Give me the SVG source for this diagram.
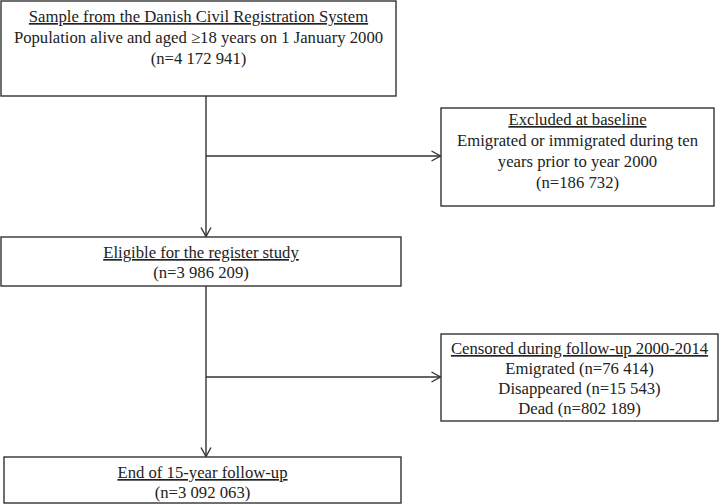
<svg xmlns="http://www.w3.org/2000/svg" width="721" height="504" viewBox="0 0 721 504">
<defs>
<style>
.box{fill:#fff;stroke:#333;stroke-width:1.4}
.t{font-family:"Liberation Serif","Times New Roman",serif;font-size:16.7px;fill:#222;text-anchor:middle}
.u{text-decoration:underline}
.c{fill:none;stroke:#333;stroke-width:1.4}
</style>
<marker id="ah" viewBox="0 0 10 12" refX="9.5" refY="6" markerWidth="10" markerHeight="12" markerUnits="userSpaceOnUse" orient="auto">
<path d="M0.5,1 L9.5,6 L0.5,11" fill="none" stroke="#333" stroke-width="1.4"/>
</marker>
</defs>
<rect width="721" height="504" fill="#fff"/>
<g id="connectors">
<line class="c" x1="206" y1="96" x2="206" y2="236.5" marker-end="url(#ah)"/>
<line class="c" x1="206" y1="156" x2="440.5" y2="156" marker-end="url(#ah)"/>
<line class="c" x1="206" y1="286" x2="206" y2="456.5" marker-end="url(#ah)"/>
<line class="c" x1="206" y1="377" x2="440.5" y2="377" marker-end="url(#ah)"/>
</g>
<g id="sample">
<rect class="box" x="1" y="1" width="395" height="95"/>
<text class="t u" x="198.5" y="22">Sample from the Danish Civil Registration System</text>
<text class="t" x="198.5" y="43">Population alive and aged ≥18 years on 1 January 2000</text>
<text class="t" x="198.5" y="64">(n=4 172 941)</text>
</g>
<g id="excluded">
<rect class="box" x="441" y="108" width="273" height="98"/>
<text class="t u" x="577.5" y="125">Excluded at baseline</text>
<text class="t" x="577.5" y="146">Emigrated or immigrated during ten</text>
<text class="t" x="577.5" y="167">years prior to year 2000</text>
<text class="t" x="577.5" y="188">(n=186 732)</text>
</g>
<g id="eligible">
<rect class="box" x="1" y="237" width="400" height="49"/>
<text class="t u" x="201" y="258">Eligible for the register study</text>
<text class="t" x="201" y="278">(n=3 986 209)</text>
</g>
<g id="censored">
<rect class="box" x="441" y="334" width="277" height="87"/>
<text class="t u" x="579.5" y="354">Censored during follow-up 2000-2014</text>
<text class="t" x="579.5" y="374">Emigrated (n=76 414)</text>
<text class="t" x="579.5" y="394">Disappeared (n=15 543)</text>
<text class="t" x="579.5" y="414">Dead (n=802 189)</text>
</g>
<g id="end">
<rect class="box" x="4" y="457" width="397" height="46"/>
<text class="t u" x="202.5" y="478">End of 15-year follow-up</text>
<text class="t" x="202.5" y="498">(n=3 092 063)</text>
</g>
</svg>
